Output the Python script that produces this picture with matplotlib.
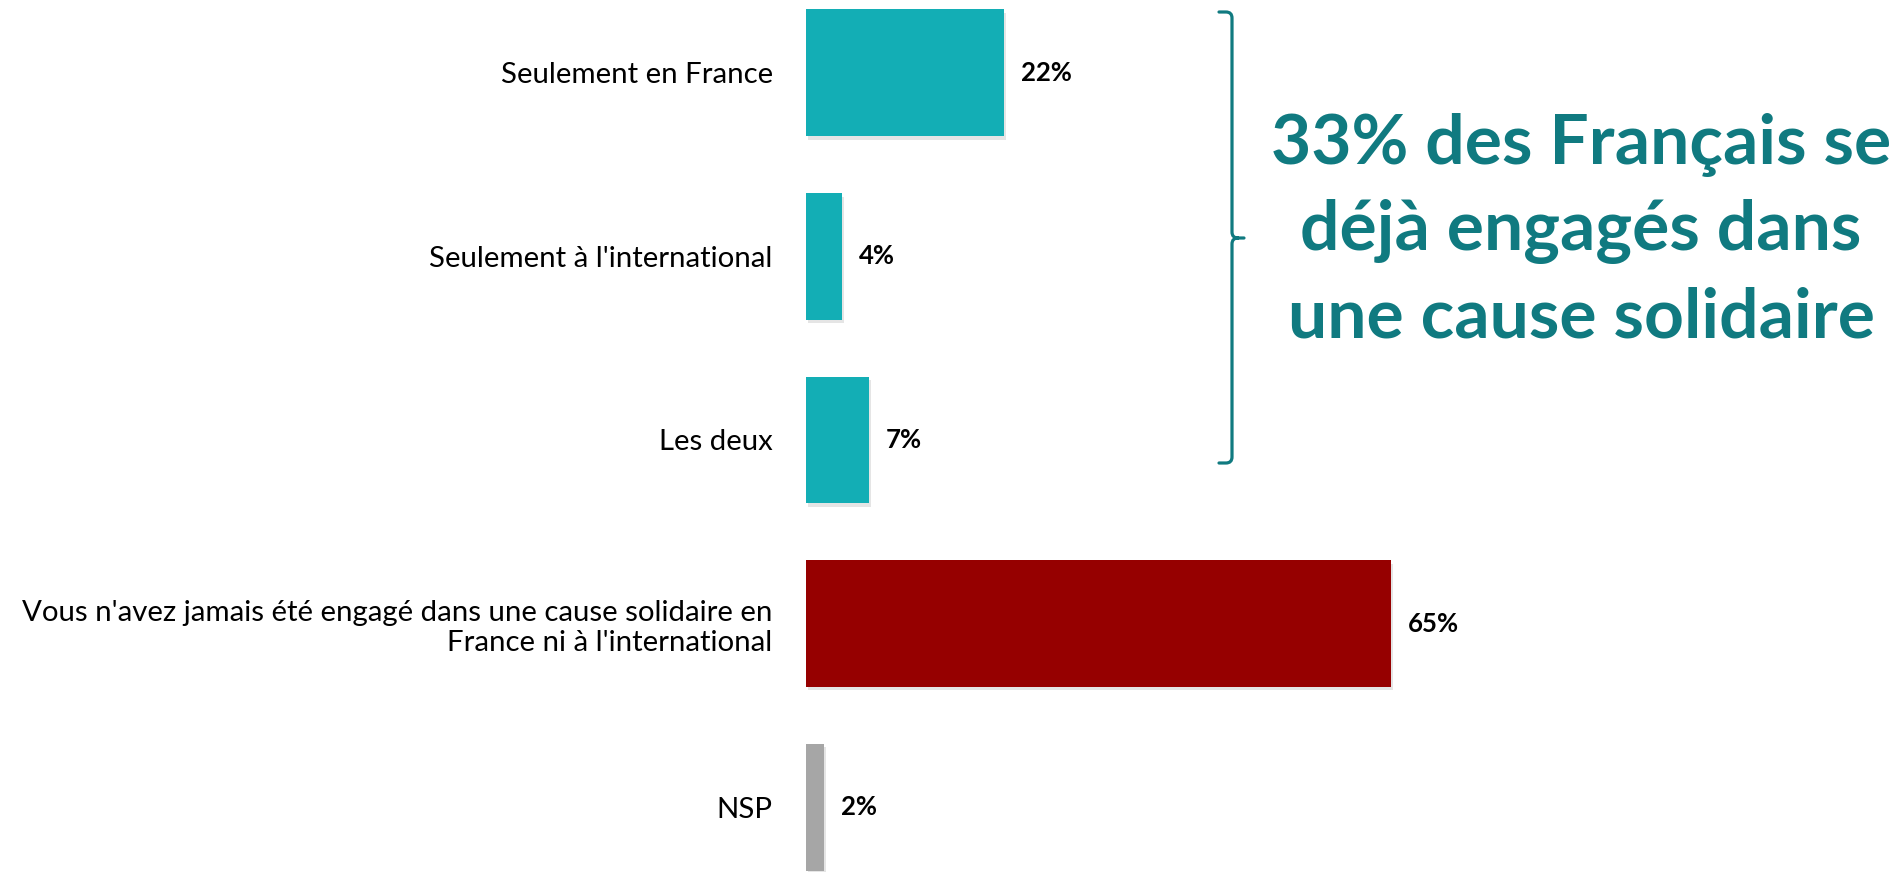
import matplotlib
matplotlib.use("Agg")
from matplotlib import pyplot as plt
from matplotlib import patheffects
from matplotlib.path import Path
from matplotlib.patches import PathPatch

categories = [
    "Seulement en France",
    "Seulement à l'international",
    "Les deux",
    "Vous n'avez jamais été engagé dans une cause solidaire en\nFrance ni à l'international",
    "NSP",
]
values = [22, 4, 7, 65, 2]
bar_colors = ["#13AEB5", "#13AEB5", "#13AEB5", "#960000", "#A6A6A6"]
headline = "33% des Français se\ndéjà engagés dans\nune cause solidaire"

TEAL_DARK = "#107A80"
W, H = 1896, 872

plt.rcParams["font.family"] = ["Lato", "DejaVu Sans"]

fig = plt.figure(figsize=(W / 100, H / 100), dpi=100)
fig.patch.set_facecolor("white")

# axes placed so that bars line up with the reference layout
ax = fig.add_axes([806 / W, -27 / H, 900 / W, 918 / H])
pos = list(range(len(categories)))
bars = ax.barh(pos, values, height=0.69, color=bar_colors)
shadow = [patheffects.SimplePatchShadow(offset=(1.5, -2.5), shadow_rgbFace="#999999", alpha=0.25),
          patheffects.Normal()]
for b in bars:
    b.set_path_effects(shadow)

ax.set_xlim(0, 100)
ax.set_ylim(len(categories) - 0.5, -0.5)
ax.set_yticks(pos)
ax.set_yticklabels(categories, fontsize=21.2, ha="right", linespacing=1.2)
ax.tick_params(axis="y", length=0, pad=24)
ax.set_xticks([])
for s in ax.spines.values():
    s.set_visible(False)

for b, v in zip(bars, values):
    ax.annotate(f"{v}%", (b.get_width(), b.get_y() + b.get_height() / 2),
                xytext=(12, 0), textcoords="offset points",
                va="center", ha="left", fontsize=18.5, fontweight="bold", color="black")


def fp(x, y):
    # pixel (from top-left) -> figure fraction
    return (x / W, 1 - y / H)


verts = [fp(1219, 12), fp(1226, 12), fp(1232, 12), fp(1232, 18), fp(1232, 232),
         fp(1232, 238), fp(1238, 238), fp(1244, 238),
         fp(1238, 238), fp(1232, 238), fp(1232, 244), fp(1232, 457),
         fp(1232, 463), fp(1226, 463), fp(1219, 463)]
codes = [Path.MOVETO, Path.LINETO, Path.CURVE3, Path.CURVE3, Path.LINETO,
         Path.CURVE3, Path.CURVE3, Path.LINETO,
         Path.MOVETO, Path.CURVE3, Path.CURVE3, Path.LINETO,
         Path.CURVE3, Path.CURVE3, Path.LINETO]
brace = PathPatch(Path(verts, codes), transform=fig.transFigure, fill=False,
                  edgecolor=TEAL_DARK, linewidth=2.3, capstyle="round", joinstyle="round")
fig.add_artist(brace)

fig.text(1581 / W, 1 - 231 / H, headline, ha="center", va="center",
         fontsize=50, fontweight="bold", color=TEAL_DARK, linespacing=1.44)

fig.savefig("out.png", dpi=100, facecolor="white")
